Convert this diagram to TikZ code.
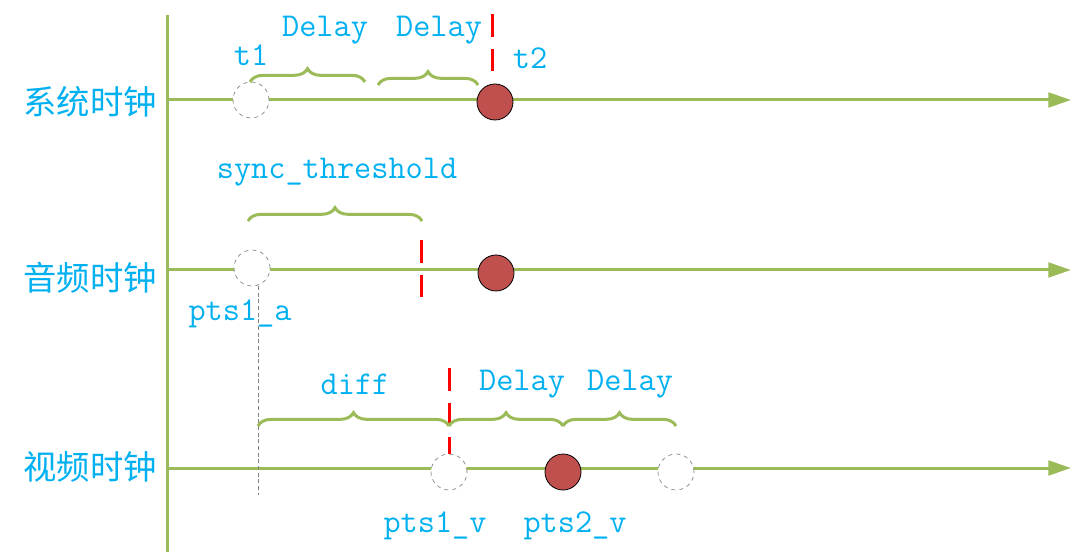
\documentclass[tikz,border=0pt]{standalone}
\usepackage{fontspec}
\newfontfamily\cjk{Noto Sans CJK SC}
\usetikzlibrary{arrows.meta,decorations.pathreplacing}

\definecolor{clockblue}{RGB}{0,176,240}
\definecolor{axisgreen}{RGB}{155,187,89}
\definecolor{ptsred}{RGB}{192,80,77}

\tikzset{
    axisline/.style={color=axisgreen, line width=2.25pt},
    timeline/.style={axisline, -{Triangle[length=17pt,width=11pt]}},
    openpt/.style={circle, minimum size=27pt, inner sep=0pt, draw=gray, dashed, line width=0.5pt, fill=white},
    fullpt/.style={circle, minimum size=27pt, inner sep=0pt, draw=black, line width=0.6pt, fill=ptsred},
    redmark/.style={color=red, line width=2.25pt, dash pattern=on 17pt off 9pt},
    bracemark/.style={decorate, decoration={brace, amplitude=10pt}, color=axisgreen, line width=2.25pt},
    guide/.style={color=gray, line width=0.6pt, dash pattern=on 3pt off 2pt},
    lbl/.style={color=clockblue, font=\ttfamily\fontsize{25}{30}\selectfont, inner sep=0pt},
    clocklbl/.style={color=clockblue, font=\cjk\fontsize{25}{30}\selectfont, inner sep=0pt}
}

\begin{document}
\begin{tikzpicture}[x=0.75pt,y=0.75pt,yscale=-1,xscale=1]
    	\useasboundingbox (0,0) rectangle (1073,559);
    	
    	%axes
    	\coordinate (axtop) at (167,15);
    	\coordinate (axbot) at (167,552);
    	\coordinate (sysl) at (167,100);
    	\coordinate (sysr) at (1071,100);
    	\coordinate (audl) at (167,270);
    	\coordinate (audr) at (1071,270);
    	\coordinate (vidl) at (167,468);
    	\coordinate (vidr) at (1071,468);
    	\draw [axisline] (axtop) -- (axbot);
    	\draw [timeline] (sysl) -- (sysr);
    	\draw [timeline] (audl) -- (audr);
    	\draw [timeline] (vidl) -- (vidr);
    	
    	\node [clocklbl] (syslbl) at (90,102) {系统时钟};
    	\node [clocklbl] (audlbl) at (90,278) {音频时钟};
    	\node [clocklbl] (vidlbl) at (90,467) {视频时钟};
    	
    	%system clock
    	\node [openpt] (t1pt) at (251,100) {};
    	\node [fullpt] (t2pt) at (495,102) {};
    	\coordinate (t2top) at (492,14);
    	\coordinate (t2bot) at (492,73);
    	\draw [redmark] (t2top) -- (t2bot);
    	\coordinate (sysb1) at (250,82);
    	\coordinate (sysb2) at (365,82);
    	\coordinate (sysb3) at (378,85);
    	\coordinate (sysb4) at (478,85);
    	\draw [bracemark] (sysb1) -- (sysb2);
    	\draw [bracemark] (sysb3) -- (sysb4);
    	\node [lbl] (t1lbl) at (251,55) {t1};
    	\node [lbl] (sysdelay1) at (325,30) {Delay};
    	\node [lbl] (sysdelay2) at (439,30) {Delay};
    	\node [lbl] (t2lbl) at (530,58) {t2};
    	
    	%audio clock
    	\node [openpt] (apt) at (252,268) {};
    	\node [fullpt] (afull) at (496,273) {};
    	\coordinate (thtop) at (421,240);
    	\coordinate (thbot) at (421,299);
    	\draw [redmark] (thtop) -- (thbot);
    	\coordinate (audb1) at (248,221);
    	\coordinate (audb2) at (422,221);
    	\draw [bracemark] (audb1) -- (audb2);
    	\node [lbl] (synclbl) at (337,172) {sync\_threshold};
    	\node [lbl] (ptsalbl) at (240,314) {pts1\_a};
    	\coordinate (gtop) at (258,286);
    	\coordinate (gbot) at (258,495);
    	\draw [guide] (gtop) -- (gbot);
    	
    	%video clock
    	\node [openpt] (v1pt) at (449,472) {};
    	\node [fullpt] (v2pt) at (563,472) {};
    	\node [openpt] (v3pt) at (676,472) {};
    	\coordinate (v1top) at (449,368);
    	\draw [redmark] (v1top) -- (v1pt.north);
    	\coordinate (vidb1) at (258,426);
    	\coordinate (vidb2) at (449,426);
    	\coordinate (vidb3) at (563,426);
    	\coordinate (vidb4) at (676,426);
    	\draw [bracemark] (vidb1) -- (vidb2);
    	\draw [bracemark] (vidb2) -- (vidb3);
    	\draw [bracemark] (vidb3) -- (vidb4);
    	\node [lbl] (difflbl) at (355,384) {diff};
    	\node [lbl] (viddelay1) at (522,384) {Delay};
    	\node [lbl] (viddelay2) at (630,384) {Delay};
    	\node [lbl] (ptsv1lbl) at (435,526) {pts1\_v};
    	\node [lbl] (ptsv2lbl) at (575,526) {pts2\_v};
    	
\end{tikzpicture}
\end{document}
